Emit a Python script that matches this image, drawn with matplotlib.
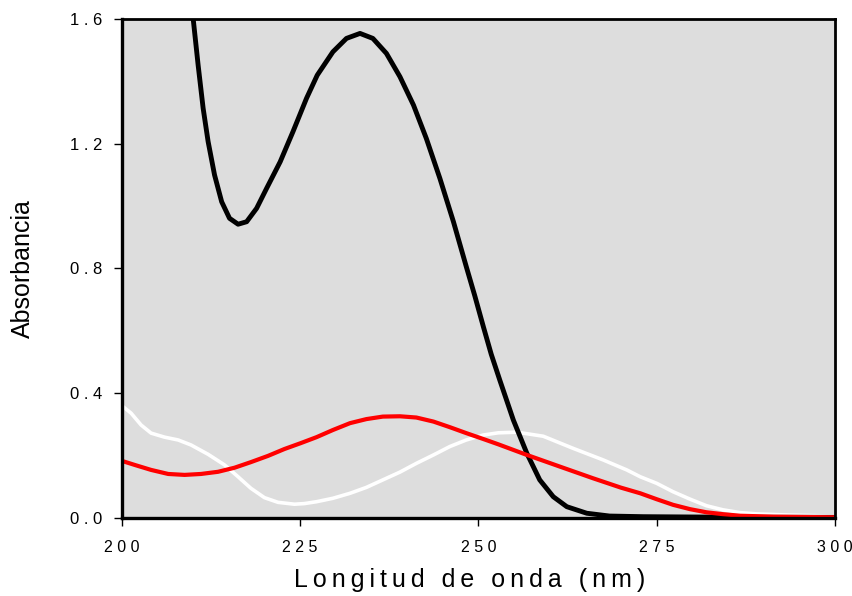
import matplotlib
matplotlib.use("Agg")
import matplotlib.pyplot as plt

plt.rcParams['font.family'] = ['Liberation Sans', 'DejaVu Sans']

# espectros UV
wl_black = [209.6, 210.0, 210.7, 211.4, 212.1, 213.0, 214.0, 215.1, 216.3, 217.5,
            218.9, 220.3, 222.2, 224.0, 225.9, 227.4, 229.6, 231.5, 233.4, 235.2,
            237.1, 239.0, 240.9, 242.7, 244.6, 246.5, 248.3, 249.5, 250.7, 251.8,
            253.0, 254.9, 256.8, 258.6, 260.5, 262.4, 265.2, 268.4, 273.1, 280.0,
            290.0, 300.0]
abs_black = [1.70, 1.602, 1.452, 1.314, 1.207, 1.100, 1.014, 0.961, 0.942, 0.950,
             0.993, 1.057, 1.142, 1.239, 1.346, 1.420, 1.495, 1.538, 1.554, 1.538,
             1.490, 1.415, 1.324, 1.217, 1.089, 0.950, 0.806, 0.712, 0.613, 0.525,
             0.442, 0.314, 0.207, 0.122, 0.068, 0.036, 0.015, 0.006, 0.004, 0.003,
             0.002, 0.002]

wl_white = [200.0, 201.3, 202.7, 204.1, 206.0, 207.9, 209.7, 212.1, 214.4, 216.3,
            218.1, 220.0, 221.9, 224.2, 225.6, 227.3, 229.6, 232.0, 234.3, 236.6,
            239.0, 241.3, 243.7, 246.0, 248.3, 250.7, 252.8, 255.4, 259.1, 263.3,
            267.5, 270.8, 272.7, 275.0, 277.3, 279.7, 282.0, 284.3, 286.7, 289.0,
            293.7, 300.0]
abs_white = [0.360, 0.336, 0.298, 0.272, 0.259, 0.250, 0.234, 0.204, 0.170, 0.132,
             0.095, 0.065, 0.050, 0.044, 0.046, 0.052, 0.063, 0.079, 0.098, 0.122,
             0.147, 0.175, 0.202, 0.229, 0.250, 0.266, 0.273, 0.275, 0.262, 0.223,
             0.186, 0.154, 0.132, 0.111, 0.084, 0.060, 0.039, 0.026, 0.017, 0.013,
             0.009, 0.006]

wl_red = [200.0, 201.8, 204.1, 206.5, 208.8, 211.1, 213.5, 215.8, 218.1, 220.5,
          222.8, 225.1, 227.3, 229.6, 232.0, 234.3, 236.6, 239.0, 241.3, 243.7,
          246.0, 248.3, 250.7, 252.8, 256.8, 261.5, 266.1, 270.0, 272.7, 275.0,
          277.3, 279.7, 282.0, 284.3, 286.7, 291.4, 300.0]
abs_red = [0.183, 0.170, 0.154, 0.141, 0.138, 0.141, 0.148, 0.161, 0.179, 0.199,
           0.221, 0.240, 0.259, 0.282, 0.304, 0.317, 0.325, 0.326, 0.322, 0.309,
           0.291, 0.272, 0.253, 0.236, 0.202, 0.164, 0.127, 0.097, 0.079, 0.060,
           0.042, 0.028, 0.018, 0.012, 0.007, 0.004, 0.002]

xticks = [200, 225, 250, 275, 300]
yticks = [0.0, 0.4, 0.8, 1.2, 1.6]


def spaced(s, gap=' '):
    return gap.join(s)


fig = plt.figure(figsize=(8.52, 5.96), dpi=100)
ax = fig.add_axes([0.143, 0.131, 0.837, 0.837])
ax.set_facecolor('#dddddd')

ax.plot(wl_white, abs_white, color='white', lw=2.6, solid_joinstyle='round')
ax.plot(wl_black, abs_black, color='black', lw=3.5, solid_joinstyle='round')
ax.plot(wl_red, abs_red, color='#ff0000', lw=3.0, solid_joinstyle='round')

ax.set_xlim(200, 300)
ax.set_ylim(0, 1.6)
ax.set_xticks(xticks)
ax.set_xticklabels([spaced(str(t)) for t in xticks], fontsize=11.5)
ax.set_yticks(yticks)
ax.set_yticklabels([spaced('%.1f' % t) for t in yticks], fontsize=12)
ax.tick_params(axis='both', direction='out', length=6, width=1)
ax.tick_params(axis='x', pad=10)
ax.tick_params(axis='y', pad=8)

for side in ['left', 'bottom']:
    ax.spines[side].set_linewidth(2.4)
for side in ['top', 'right']:
    ax.spines[side].set_linewidth(2.0)

# letras espaciadas como en el original
word_gap = '\u2009 \u2009'
xlab = word_gap.join(spaced(w, '\u2009') for w in ['Longitud', 'de', 'onda', '(nm)'])
ax.set_xlabel(xlab, fontsize=18)
ax.xaxis.set_label_coords(0.487, -0.1)
ax.set_ylabel('Absorbancia', fontsize=18, labelpad=25)

fig.savefig('out.png', dpi=100)
